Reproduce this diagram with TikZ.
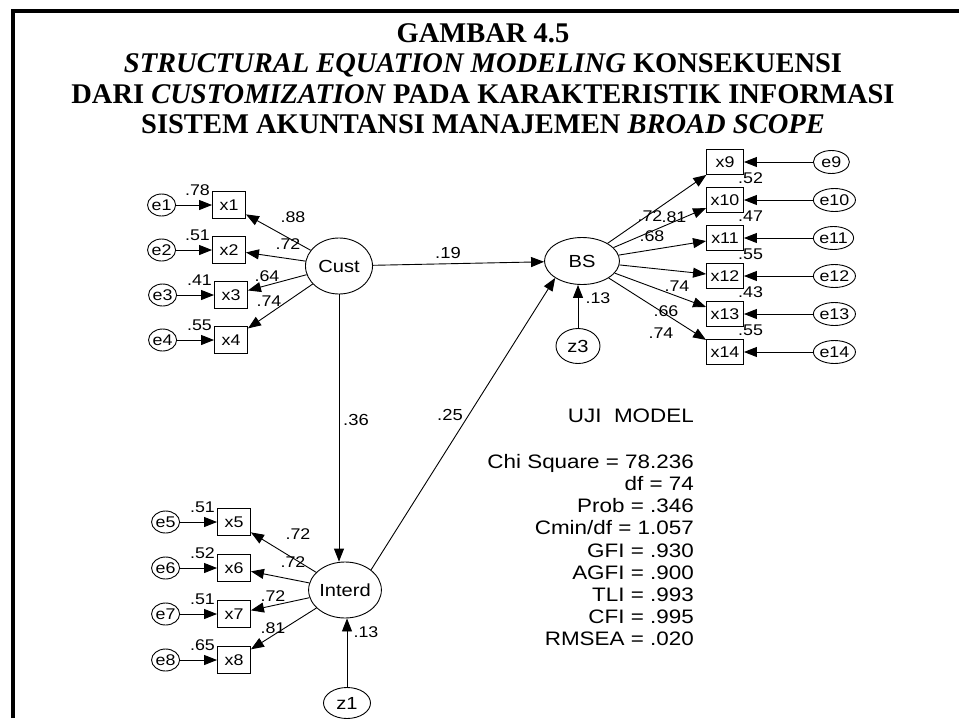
\documentclass[tikz,border=0pt]{standalone}
\usepackage{fontspec}
\setmainfont{Liberation Serif}
\newfontfamily\amosfont[FakeStretch=1.15]{Liberation Sans}
\usetikzlibrary{positioning,arrows.meta,shapes.geometric}
\newcommand\fontobs{\amosfont\fontsize{15.5}{18}\selectfont}
\newcommand\fontlat{\amosfont\fontsize{17.5}{20}\selectfont}
\newcommand\fontpath{\amosfont\fontsize{16}{19}\selectfont}
\newcommand\fontstat{\amosfont\fontsize{19.5}{22.2}\selectfont}
\tikzset{
  obs-box/.style={draw,line width=0.9pt,minimum width=33pt,minimum height=27pt,
    inner sep=0pt,font=\fontobs},
  obs-box-r/.style={obs-box,minimum width=37pt,minimum height=25pt},
  err/.style={draw,ellipse,line width=0.9pt,minimum width=28pt,minimum height=22pt,
    inner sep=0pt,font=\fontobs},
  err-r/.style={err,minimum width=36pt,minimum height=23pt},
  latent/.style={draw,ellipse,line width=0.9pt,minimum width=67pt,minimum height=56pt,
    inner sep=0pt,font=\fontlat},
  resid/.style={latent,minimum width=44pt,minimum height=35pt},
  lbl/.style={inner sep=0pt,font=\fontobs},
  lbl-path/.style={inner sep=0pt,font=\fontpath},
  r2-left/.style={lbl,anchor=east,xshift=-2pt,yshift=1pt},
  r2-right/.style={lbl,anchor=south west,xshift=-6pt,yshift=3pt},
  stat-text/.style={inner sep=0pt,font=\fontstat,align=right},
  title-text/.style={inner sep=0pt,align=center,
    font=\fontsize{28.5}{30.5}\selectfont\bfseries},
  arrow/.style={-{Triangle[length=13pt,width=10pt]},line width=0.9pt},
}
\begin{document}
\begin{tikzpicture}[x=1pt,y=-1pt]
  \useasboundingbox (0,0) rectangle (959,718);
  % frame
  \draw[line width=4.5pt] (13,718) -- (13,11) -- (959,11);
  \node[title-text,anchor=north] (title) at (483,23) {GAMBAR 4.5\\
    \textit{STRUCTURAL EQUATION MODELING} KONSEKUENSI\\
    DARI \textit{CUSTOMIZATION} PADA KARAKTERISTIK INFORMASI\\
    SISTEM AKUNTANSI MANAJEMEN \textit{BROAD SCOPE}};

  % latent variables
  \node[latent] (cust) at (339,266) {Cust};
  \node[latent] (interd) at (345,590) {Interd};
  \node[latent,minimum width=75pt,minimum height=47pt] (bs) at (582,261) {BS};
  \node[resid] (z3) at (578,346) {z3};
  \node[resid,minimum width=47pt,minimum height=31pt] (z1) at (347,703) {z1};

  % indicators of Cust
  \node[obs-box] (x1) at (229,205) {x1};
  \node[obs-box] (x2) at (229,250) {x2};
  \node[obs-box] (x3) at (231,295) {x3};
  \node[obs-box] (x4) at (231,340) {x4};
  \node[err,left=36pt of x1] (e1) {e1};
  \node[err,left=36pt of x2] (e2) {e2};
  \node[err,left=37pt of x3] (e3) {e3};
  \node[err,left=37pt of x4] (e4) {e4};

  % indicators of Interd
  \node[obs-box] (x5) at (234,522) {x5};
  \node[obs-box] (x6) at (234,568) {x6};
  \node[obs-box] (x7) at (234,614) {x7};
  \node[obs-box] (x8) at (234,660) {x8};
  \node[err,left=37pt of x5] (e5) {e5};
  \node[err,left=37pt of x6] (e6) {e6};
  \node[err,left=37pt of x7] (e7) {e7};
  \node[err,left=37pt of x8] (e8) {e8};

  % indicators of BS
  \node[obs-box-r] (x9) at (725,162) {x9};
  \node[obs-box-r] (x10) at (725,200) {x10};
  \node[obs-box-r] (x11) at (725,238) {x11};
  \node[obs-box-r] (x12) at (725,276) {x12};
  \node[obs-box-r] (x13) at (725,314) {x13};
  \node[obs-box-r] (x14) at (725,352) {x14};
  \node[err-r,right=69pt of x9] (e9) {e9};
  \node[err-r,right=69pt of x10] (e10) {e10};
  \node[err-r,right=69pt of x11] (e11) {e11};
  \node[err-r,right=69pt of x12] (e12) {e12};
  \node[err-r,right=69pt of x13] (e13) {e13};
  \node[err-r,right=69pt of x14] (e14) {e14};

  % structural paths
  \draw[arrow] (cust) -- (bs);
  \draw[arrow] (cust) -- (cust |- interd.north);
  \draw[arrow] (interd.north east) -- (bs.south west);
  \draw[arrow] (z3) -- (z3 |- bs.south);
  \draw[arrow] (z1) -- (z1 |- interd.south);

  % measurement paths
  \draw[arrow] (cust) -- (x1);
  \draw[arrow] (cust) -- (x2);
  \draw[arrow] (cust) -- (x3);
  \draw[arrow] (cust) -- (x4);
  \draw[arrow] (interd) -- (x5);
  \draw[arrow] (interd) -- (x6);
  \draw[arrow] (interd) -- (x7);
  \draw[arrow] (interd) -- (x8);
  \draw[arrow] (bs) -- (x9);
  \draw[arrow] (bs) -- (x10);
  \draw[arrow] (bs) -- (x11);
  \draw[arrow] (bs) -- (x12);
  \draw[arrow] (bs) -- (x13);
  \draw[arrow] (bs) -- (x14);

  % error terms
  \draw[arrow] (e1) -- (x1);
  \draw[arrow] (e2) -- (x2);
  \draw[arrow] (e3) -- (x3);
  \draw[arrow] (e4) -- (x4);
  \draw[arrow] (e5) -- (x5);
  \draw[arrow] (e6) -- (x6);
  \draw[arrow] (e7) -- (x7);
  \draw[arrow] (e8) -- (x8);
  \draw[arrow] (e9) -- (x9);
  \draw[arrow] (e10) -- (x10);
  \draw[arrow] (e11) -- (x11);
  \draw[arrow] (e12) -- (x12);
  \draw[arrow] (e13) -- (x13);
  \draw[arrow] (e14) -- (x14);

  % estimates
  \node[lbl-path] (l-bs) at (448,253) {.19};
  \node[lbl-path] (l-interd) at (356,420) {.36};
  \node[lbl-path] (l-ib) at (450,415) {.25};
  \node[lbl] (r-bs) at (598,298) {.13};
  \node[lbl] (r-interd) at (366,632) {.13};
  \node[lbl] (l-x1) at (293,217) {.88};
  \node[lbl] (l-x2) at (288,244) {.72};
  \node[lbl] (l-x3) at (267,276) {.64};
  \node[lbl] (l-x4) at (269,301) {.74};
  \node[lbl] (l-x5) at (298,534) {.72};
  \node[lbl] (l-x6) at (293,562) {.72};
  \node[lbl] (l-x7) at (273,596) {.72};
  \node[lbl] (l-x8) at (273,628) {.81};
  \node[lbl] (l-x9) at (650,216) {.72};
  \node[lbl] (l-x10) at (674,217) {.81};
  \node[lbl] (l-x11) at (652,236) {.68};
  \node[lbl] (l-x12) at (677,286) {.74};
  \node[lbl] (l-x13) at (666,311) {.66};
  \node[lbl] (l-x14) at (661,333) {.74};
  \node[r2-left] (r-x1) at (x1.north west) {.78};
  \node[r2-left] (r-x2) at (x2.north west) {.51};
  \node[r2-left] (r-x3) at (x3.north west) {.41};
  \node[r2-left] (r-x4) at (x4.north west) {.55};
  \node[r2-left] (r-x5) at (x5.north west) {.51};
  \node[r2-left] (r-x6) at (x6.north west) {.52};
  \node[r2-left] (r-x7) at (x7.north west) {.51};
  \node[r2-left] (r-x8) at (x8.north west) {.65};
  \node[r2-right] (r-x10) at (x10.north east) {.52};
  \node[r2-right] (r-x11) at (x11.north east) {.47};
  \node[r2-right] (r-x12) at (x12.north east) {.55};
  \node[r2-right] (r-x13) at (x13.north east) {.43};
  \node[r2-right] (r-x14) at (x14.north east) {.55};

  % model fit
  \node[stat-text,anchor=base east] (uji) at (694,422) {UJI~~MODEL};
  \node[stat-text,anchor=north east] (fit) at (694,454) {Chi Square = 78.236\\
    df = 74\\ Prob = .346\\ Cmin/df = 1.057\\ GFI = .930\\ AGFI = .900\\
    TLI = .993\\ CFI = .995\\ RMSEA = .020};
\end{tikzpicture}
\end{document}
